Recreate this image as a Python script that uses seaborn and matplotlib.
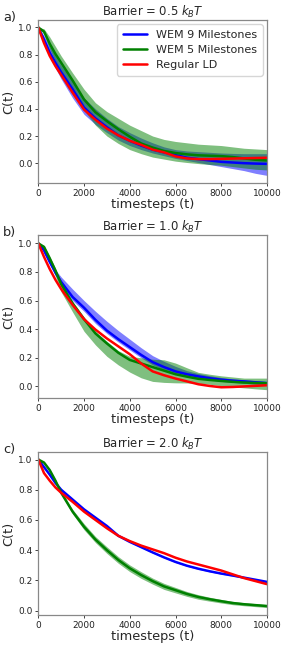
import numpy as np
import seaborn as sns
import matplotlib
matplotlib.use("Agg")
import matplotlib.pyplot as plt

# time grid (timesteps)
t = [0, 250, 500, 750, 1000, 1500, 2000, 2500, 3000, 3500, 4000, 4500,
     5000, 5500, 6000, 6500, 7000, 7500, 8000, 8500, 9000, 9500, 10000]

# ---- panel a: barrier 0.5 kBT ----
a_blue = [1.0, .91, .815, .74, .67, .545, .41, .33, .265, .205, .165, .13,
          .10, .08, .06, .04, .03, .02, .01, .005, 0.0, -.003, -.005]
a_blue_hi = [1.0, .94, .86, .79, .72, .60, .48, .40, .33, .27, .225, .185,
             .15, .12, .10, .09, .085, .08, .075, .072, .07, .07, .07]
a_blue_lo = [1.0, .89, .79, .70, .62, .48, .36, .285, .225, .17, .13, .10,
             .075, .055, .035, .02, .005, -.01, -.025, -.04, -.055, -.075, -.09]
a_green = [1.0, .97, .88, .805, .74, .61, .47, .375, .31, .25, .195, .145,
           .115, .09, .075, .065, .058, .055, .052, .045, .035, .025, .02]
a_green_hi = [1.0, .99, .93, .86, .79, .665, .545, .445, .38, .33, .28, .24,
              .20, .175, .16, .15, .14, .135, .13, .12, .11, .105, .10]
a_green_lo = [1.0, .95, .84, .75, .66, .51, .39, .28, .20, .145, .10, .07,
              .045, .03, .015, .005, -.003, -.01, -.015, -.025, -.035, -.045, -.05]
a_red = [1.0, .885, .79, .715, .65, .52, .395, .32, .255, .205, .165, .135,
         .10, .08, .05, .035, .03, .03, .032, .034, .036, .038, .04]

# ---- panel b: barrier 1.0 kBT ----
b_blue = [1.0, .95, .87, .795, .73, .625, .55, .465, .39, .33, .275, .22,
          .17, .135, .105, .085, .07, .057, .047, .04, .035, .029, .023]
b_blue_hi = [1.0, .96, .89, .815, .765, .68, .60, .525, .455, .39, .33, .27,
             .215, .175, .14, .11, .09, .075, .062, .052, .045, .04, .035]
b_blue_lo = [1.0, .94, .855, .78, .71, .60, .525, .44, .37, .31, .255, .20,
             .15, .115, .09, .07, .055, .045, .035, .028, .022, .015, .01]
b_green = [1.0, .975, .895, .81, .715, .58, .47, .37, .30, .235, .185, .16,
           .135, .11, .085, .068, .053, .045, .038, .032, .027, .024, .022]
b_green_hi = [1.0, .985, .91, .825, .73, .595, .485, .385, .315, .25, .21, .20,
              .19, .186, .163, .13, .098, .085, .074, .066, .058, .058, .058]
b_green_lo = [1.0, .96, .87, .77, .66, .52, .385, .29, .21, .15, .10, .06,
              .035, .028, .025, .024, .022, .015, .005, -.003, -.01, -.017, -.023]
b_red = [1.0, .905, .82, .745, .68, .57, .47, .397, .335, .28, .225, .16,
         .105, .078, .055, .035, .015, .003, -.006, -.004, 0.0, .004, .008]

# ---- panel c: barrier 2.0 kBT ----
c_blue = [1.0, .95, .90, .845, .80, .735, .67, .615, .56, .495, .455, .42,
          .385, .352, .322, .297, .277, .26, .245, .232, .218, .204, .19]
c_blue_hi = [v + .004 for v in c_blue]
c_blue_lo = [v - .004 for v in c_blue]
c_green = [1.0, .98, .93, .86, .78, .655, .555, .47, .40, .335, .28, .235,
           .195, .16, .135, .11, .09, .075, .062, .05, .042, .036, .03]
c_green_spread = [0, .003, .005, .008, .01, .015, .02, .02, .022, .022, .022, .022,
                  .02, .02, .018, .016, .015, .013, .012, .011, .01, .01, .01]
c_green_hi = [g + s for g, s in zip(c_green, c_green_spread)]
c_green_lo = [g - s for g, s in zip(c_green, c_green_spread)]
c_red = [1.0, .91, .86, .815, .78, .72, .655, .60, .545, .495, .46, .43,
         .405, .38, .35, .325, .305, .285, .265, .24, .215, .195, .175]

panels = [
    ("a)", "Barrier = 0.5 $k_BT$", (a_blue, a_blue_lo, a_blue_hi),
     (a_green, a_green_lo, a_green_hi), a_red, (-0.146, 1.055)),
    ("b)", "Barrier = 1.0 $k_BT$", (b_blue, b_blue_lo, b_blue_hi),
     (b_green, b_green_lo, b_green_hi), b_red, (-0.081, 1.058)),
    ("c)", "Barrier = 2.0 $k_BT$", (c_blue, c_blue_lo, c_blue_hi),
     (c_green, c_green_lo, c_green_hi), c_red, (-0.029, 1.05)),
]

sns.set_style("ticks")
plt.rcParams['font.family'] = ['DejaVu Sans']

fig = plt.figure(figsize=(2.88, 6.48), dpi=100)
boxes = [[0.133, 0.7176, 0.794, 0.2515],
         [0.133, 0.3858, 0.794, 0.2515],
         [0.133, 0.0510, 0.794, 0.2515]]
tag_y = [1 - 18 / 648, 1 - 233 / 648, 1 - 449 / 648]

for box, ty, (tag, title, blue, green, red, ylim) in zip(boxes, tag_y, panels):
    ax = fig.add_axes(box)
    ax.fill_between(t, blue[1], blue[2], color="blue", alpha=0.5, lw=0)
    ax.fill_between(t, green[1], green[2], color="green", alpha=0.5, lw=0)
    sns.lineplot(x=t, y=blue[0], color="blue", lw=1.8, ax=ax, label="WEM 9 Milestones")
    sns.lineplot(x=t, y=green[0], color="green", lw=1.8, ax=ax, label="WEM 5 Milestones")
    sns.lineplot(x=t, y=red, color="red", lw=1.8, ax=ax, label="Regular LD")
    ax.set_xlim(0, 10000)
    ax.set_ylim(*ylim)
    ax.set_xticks([0, 2000, 4000, 6000, 8000, 10000])
    ax.set_yticks([0.0, 0.2, 0.4, 0.6, 0.8, 1.0])
    ax.tick_params(labelsize=6.5, length=2.5, width=0.6, pad=1.5,
                   colors="#222222")
    for s in ax.spines.values():
        s.set_color("#888888")
        s.set_linewidth(0.9)
    ax.set_title(title, fontsize=8.4, pad=3)
    ax.set_xlabel("timesteps (t)", fontsize=9.3, labelpad=0)
    ax.set_ylabel("C(t)", fontsize=9.3, labelpad=2)
    fig.text(3 / 288, ty, tag, fontsize=9.3, ha="left", va="center")
    if tag == "a)":
        ax.legend(loc="upper right", fontsize=8, frameon=True,
                  borderpad=0.5, handlelength=2.2, labelspacing=0.45,
                  borderaxespad=0.4)
    else:
        ax.get_legend().remove()

fig.savefig("out.png", dpi=100)
